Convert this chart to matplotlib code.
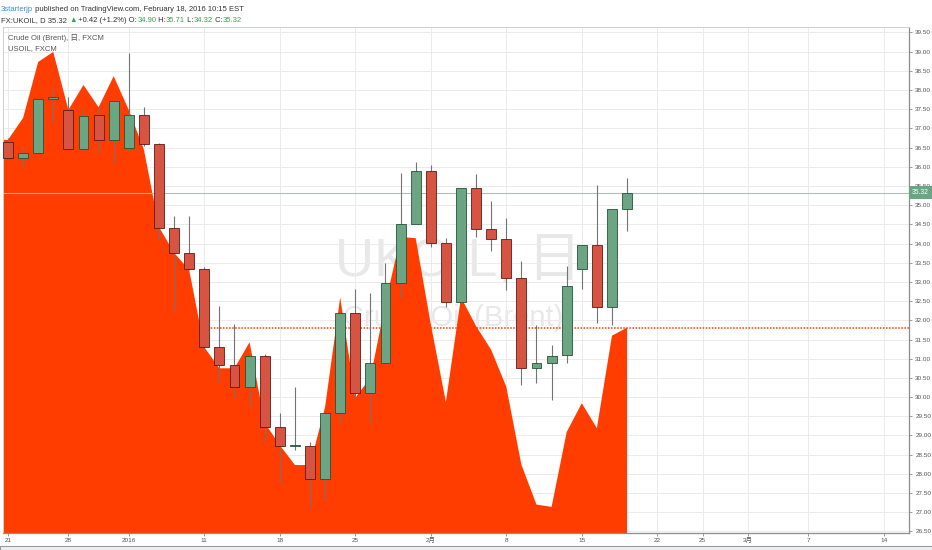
import numpy as np
import matplotlib
matplotlib.use('Agg')
import matplotlib.pyplot as plt
from matplotlib.patches import Rectangle

### Data ###
# UKOIL daily candles, Dec 21 2015 .. Feb 18 2016 (trading-day index 0..41)
opens = [36.64, 36.22, 36.35, 37.76, 37.48, 36.46, 37.34, 36.69, 36.48, 37.34,
         36.59, 34.40, 33.76, 33.34, 31.30, 30.83, 30.26, 31.07, 29.22, 28.73,
         28.73, 27.86, 29.58, 32.19, 30.11, 30.90, 32.97, 34.50, 35.89, 34.01,
         32.48, 35.45, 34.38, 34.12, 33.10, 30.75, 30.88, 31.10, 33.34, 33.97,
         32.35, 34.90]
highs = [36.75, 36.48, 37.80, 38.05, 37.81, 37.50, 37.55, 37.75, 38.95, 37.55,
         36.63, 34.72, 34.72, 33.40, 32.37, 31.90, 31.10, 31.12, 29.58, 30.26,
         28.82, 29.60, 32.20, 32.81, 32.71, 33.49, 35.83, 36.12, 36.04, 34.14,
         35.45, 35.81, 35.11, 34.66, 33.55, 31.88, 31.35, 33.41, 33.97, 35.53,
         34.89, 35.71]
lows = [36.22, 35.99, 36.35, 37.14, 36.46, 36.40, 36.35, 36.10, 36.40, 36.55,
        34.10, 32.22, 33.30, 31.20, 30.37, 29.98, 29.74, 28.83, 27.80, 28.62,
        27.14, 27.32, 29.33, 29.98, 29.33, 30.90, 32.58, 34.50, 33.90, 32.35,
        32.48, 34.17, 33.81, 32.79, 30.32, 30.37, 29.93, 30.88, 32.81, 31.93,
        31.88, 34.32]
closes = [36.22, 36.35, 37.76, 37.81, 36.46, 37.32, 36.69, 37.71, 37.34, 36.59,
          34.40, 33.76, 33.34, 31.30, 30.83, 30.26, 31.07, 29.22, 28.73, 28.73,
          27.86, 29.58, 32.19, 30.11, 30.90, 32.97, 34.50, 35.89, 34.01, 32.48,
          35.45, 34.38, 34.12, 33.10, 30.75, 30.88, 31.07, 32.89, 33.97, 32.35,
          34.89, 35.32]
# USOIL comparison area
usoil = [36.70, 37.27, 38.73, 38.99, 37.48, 38.13, 37.55, 38.36, 37.48, 36.45,
         34.43, 33.76, 33.31, 31.30, 30.75, 30.75, 31.43, 29.33, 28.75, 28.23,
         28.23, 29.74, 32.60, 29.98, 30.50, 32.45, 34.17, 34.14, 31.90, 29.87,
         32.60, 31.85, 31.23, 30.27, 28.24, 27.20, 27.14, 29.09, 29.84, 29.19,
         31.60, 31.81]

tick_idx = [0, 4, 8, 13, 18, 23, 28, 33, 38, 43, 46, 49, 53, 58]
tick_labels = ['21', '28', '2016', '11', '18', '25', '2月', '8', '15',
               '22', '25', '3月', '7', '14']
last_price = 35.32

### Style ###
FONT = ['Liberation Sans', 'DejaVu Sans', 'Noto Sans CJK JP']
UP, DOWN = '#6ba583', '#d75442'
UP_EDGE, DOWN_EDGE = '#225437', '#5b1a13'
WICK = '#737375'
AREA = '#ff3d00'
GREEN_TXT = '#2fa84f'
SMALL = 5.5
AXIS_FS = 4.6

plt.rcParams['font.family'] = FONT

fig = plt.figure(figsize=(9.32, 5.5), dpi=100)
ax = fig.add_axes([3 / 932, 1 - 533 / 550, 906 / 932, 506 / 550])

x = np.arange(len(opens))
o = np.array(opens)
c = np.array(closes)
h = np.array(highs)
l = np.array(lows)
up = c >= o

x_left, x_right = -0.33, 59.67

# watermark behind everything
ax.text(0.503, 0.536, 'UKOIL, 日', transform=ax.transAxes, ha='center', va='center',
        fontsize=39, color='#e8e8e8', zorder=0.5)
ax.text(0.497, 0.425, 'Crude Oil (Brent)', transform=ax.transAxes, ha='center', va='center',
        fontsize=21, color='#e8e8e8', zorder=0.5)

# USOIL area
ax.fill_between(np.r_[x_left, x], np.r_[usoil[0], usoil], 20, color=AREA, lw=0, zorder=1)
ax.axhline(usoil[-1], color=AREA, ls=(0, (1, 1)), lw=1.1, zorder=2)

# last price line
ax.axhline(last_price, color='#b4bcb8', lw=0.8, zorder=1.5)

# candles
ax.vlines(x, l, h, color=WICK, lw=0.8, zorder=3)
body_h = np.maximum(np.abs(c - o), 0.02)
ax.bar(x, body_h, bottom=np.minimum(o, c), width=0.66,
       color=np.where(up, UP, DOWN), edgecolor=np.where(up, UP_EDGE, DOWN_EDGE),
       linewidth=0.6, zorder=4)

# axes setup
ax.set_xlim(x_left, x_right)
ax.set_ylim(26.46, 39.64)
ax.yaxis.tick_right()
yt = np.arange(26.5, 39.51, 0.5)
ax.set_yticks(yt)
ax.set_yticklabels([f'{v:.2f}' for v in yt])
ax.set_xticks(tick_idx)
ax.set_xticklabels([])
# date labels drawn on a common baseline (CJK glyphs otherwise sit lower)
for xi, lab in zip(tick_idx, tick_labels):
    ax.text(xi, -0.0185, lab, transform=ax.get_xaxis_transform(), ha='center',
            va='baseline', fontsize=AXIS_FS, color='#555555', clip_on=False)
ax.tick_params(axis='both', labelsize=AXIS_FS, colors='#8c8c8c', labelcolor='#555555',
               length=2.5, width=0.6, pad=2)
ax.grid(True, color='#ebebeb', lw=0.7, zorder=0)
ax.set_axisbelow(True)
for side in ['top', 'left']:
    ax.spines[side].set_color('#d0d0d0')
    ax.spines[side].set_linewidth(0.7)
for side in ['right', 'bottom']:
    ax.spines[side].set_color('#8c8c8c')
    ax.spines[side].set_linewidth(0.9)

# last price label on price axis
ax.text(1.003, last_price, f'{last_price:.2f}', transform=ax.get_yaxis_transform(),
        ha='left', va='center', fontsize=AXIS_FS + 0.3, color='white', zorder=6, clip_on=False,
        bbox=dict(boxstyle='square,pad=0.45', fc=UP, ec='none'))

# legend lines inside chart
ax.text(0.0055, 0.978, 'Crude Oil (Brent), 日, FXCM', transform=ax.transAxes,
        ha='left', va='center', fontsize=SMALL, color='#555555', zorder=6)
ax.text(0.0055, 0.957, 'USOIL, FXCM', transform=ax.transAxes,
        ha='left', va='center', fontsize=SMALL, color='#555555', zorder=6)


# header lines, pieces chained one after another
def header_line(y, parts):
    t = fig.text(1 / 932, y, parts[0][0], color=parts[0][1], fontsize=SMALL, va='bottom')
    for s, col in parts[1:]:
        t = ax.annotate(s, xy=(1, 0), xycoords=t, va='bottom', ha='left',
                        color=col, fontsize=SMALL, annotation_clip=False)


dark = '#333333'
header_line(1 - 13 / 550, [('3starterjp', '#3a8fd6'),
                           (' published on TradingView.com, February 18, 2016 10:15 EST', dark)])
header_line(1 - 24.5 / 550, [('FX:UKOIL, D 35.32 ', dark), ('▲', GREEN_TXT),
                             (' +0.42 (+1.2%) O:', dark), ('34.90', GREEN_TXT),
                             (' H:', dark), ('35.71', GREEN_TXT),
                             (' L:', dark), ('34.32', GREEN_TXT),
                             (' C:', dark), ('35.32', GREEN_TXT)])

# bottom frame strip
fig.patches.append(Rectangle((0, 0), 1, 4 / 550, transform=fig.transFigure,
                             fc='#eef0f2', ec='#9a9a9a', lw=0.8))

fig.savefig('out.png', dpi=100)
